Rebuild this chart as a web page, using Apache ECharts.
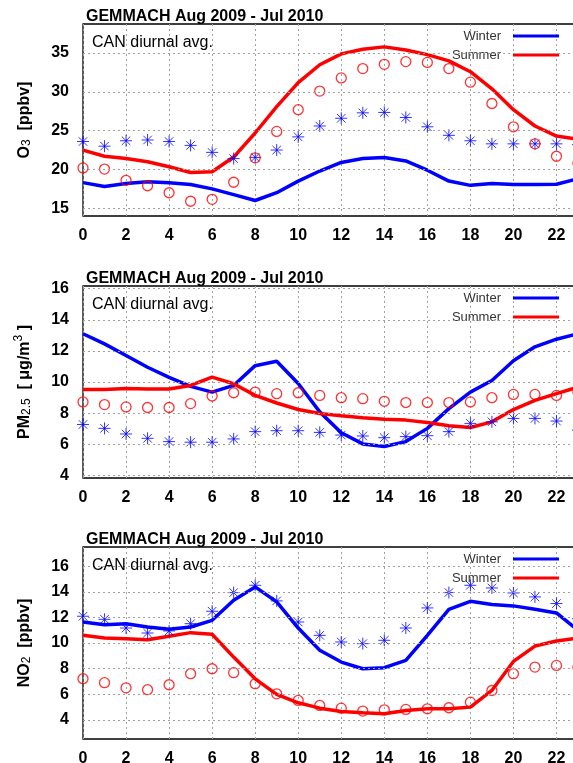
<!DOCTYPE html>
<html>
<head>
<meta charset="utf-8">
<script src="https://cdn.jsdelivr.net/npm/echarts@6/dist/echarts.min.js"></script>
<style>
  html, body { margin: 0; padding: 0; background: #fff; overflow: hidden; }
  #chart { width: 573px; height: 763px; }
</style>
</head>
<body>
<div id="chart"></div>
<script>
const hours = [0, 1, 2, 3, 4, 5, 6, 7, 8, 9, 10, 11, 12, 13, 14, 15, 16, 17, 18, 19, 20, 21, 22, 23]

// O3 [ppbv]
const o3WinterModel = [18.3, 17.8, 18.2, 18.4, 18.3, 18.05, 17.5, 16.75, 16.0, 17.0, 18.5, 19.8, 20.9, 21.4, 21.55, 21.1, 19.9, 18.5, 17.95, 18.2, 18.05, 18.05, 18.1, 18.8]
const o3SummerModel = [22.5, 21.7, 21.4, 21.0, 20.35, 19.6, 19.7, 21.6, 24.7, 28.1, 31.2, 33.5, 34.9, 35.5, 35.8, 35.4, 34.8, 34.0, 32.6, 30.4, 27.7, 25.6, 24.3, 23.9]
const o3WinterObs = [23.6, 23.0, 23.7, 23.8, 23.6, 23.1, 22.2, 21.4, 21.55, 22.5, 24.2, 25.6, 26.6, 27.3, 27.35, 26.7, 25.5, 24.4, 23.7, 23.3, 23.3, 23.3, 23.3, 23.2]
const o3SummerObs = [20.2, 20.05, 18.6, 17.9, 17.0, 15.9, 16.15, 18.35, 21.5, 24.9, 27.7, 30.1, 31.8, 33.0, 33.55, 33.9, 33.8, 33.0, 31.25, 28.5, 25.5, 23.3, 21.7, 20.8]

// PM2.5 [ug/m3]
const pmWinterModel = [13.1, 12.45, 11.7, 10.95, 10.3, 9.72, 9.35, 9.78, 11.05, 11.33, 9.9, 8.08, 6.74, 6.02, 5.85, 6.17, 7.02, 8.29, 9.35, 10.1, 11.37, 12.26, 12.75, 13.1]
const pmSummerModel = [9.52, 9.52, 9.59, 9.55, 9.55, 9.78, 10.31, 9.89, 9.14, 8.65, 8.23, 7.97, 7.83, 7.7, 7.61, 7.55, 7.4, 7.19, 7.08, 7.44, 8.23, 8.82, 9.25, 9.67]
const pmWinterObs = [7.27, 7.02, 6.66, 6.38, 6.17, 6.13, 6.13, 6.34, 6.81, 6.87, 6.87, 6.76, 6.59, 6.53, 6.42, 6.49, 6.55, 6.81, 7.34, 7.44, 7.66, 7.66, 7.49, 6.9]
const pmSummerObs = [8.72, 8.55, 8.4, 8.36, 8.36, 8.61, 9.1, 9.31, 9.35, 9.25, 9.31, 9.14, 8.99, 8.93, 8.76, 8.68, 8.68, 8.68, 8.72, 8.99, 9.2, 9.2, 9.14, 9.35]

// NO2 [ppbv]
const no2WinterModel = [11.64, 11.43, 11.51, 11.25, 11.07, 11.25, 11.77, 13.34, 14.38, 13.21, 11.17, 9.43, 8.51, 7.99, 8.07, 8.64, 10.6, 12.63, 13.26, 13.0, 12.9, 12.63, 12.35, 11.0]
const no2SummerModel = [10.6, 10.39, 10.34, 10.26, 10.52, 10.81, 10.68, 8.9, 7.2, 5.98, 5.33, 4.91, 4.65, 4.55, 4.47, 4.73, 4.86, 4.86, 4.99, 6.29, 8.56, 9.76, 10.16, 10.39]
const no2WinterObs = [12.09, 11.85, 11.17, 10.78, 10.94, 11.51, 12.48, 13.94, 14.51, 13.29, 11.64, 10.6, 10.08, 9.95, 10.21, 11.17, 12.74, 13.94, 14.51, 14.3, 13.91, 13.6, 13.08, 11.9]
const no2SummerObs = [7.21, 6.9, 6.5, 6.35, 6.74, 7.6, 7.99, 7.68, 6.82, 6.03, 5.51, 5.12, 4.91, 4.68, 4.78, 4.81, 4.86, 4.94, 5.38, 6.29, 7.6, 8.12, 8.25, 8.1]

const yTicksO3 = [15, 20, 25, 30, 35]
const yTicksPm = [4, 6, 8, 10, 12, 14, 16]
const yTicksNo2 = [4, 6, 8, 10, 12, 14, 16]

const titleText = 'GEMMACH Aug 2009 - Jul 2010'
const subText = 'CAN diurnal avg.'

const font = 'Liberation Sans'
const blue = '#0000ff'
const red = '#ff0000'
const asterisk = 'path://M0,5L10,5M5,0L5,10M1.46,1.46L8.54,8.54M1.46,8.54L8.54,1.46'

const panels = [
  { top: 24, min: 14, max: 38.75, ticks: yTicksO3, name: '{b|O}{sub|3}{b|  [ppbv]}',
    data: [o3WinterModel, o3SummerModel, o3WinterObs, o3SummerObs] },
  { top: 286, min: 3.83, max: 16.17, ticks: yTicksPm, name: '{b|PM}{sub|2.5}{b|  [ μg/m}{sup|3}{b| ]}',
    data: [pmWinterModel, pmSummerModel, pmWinterObs, pmSummerObs] },
  { top: 547, min: 2.5, max: 17.5, ticks: yTicksNo2, name: '{b|NO}{sub|2}{b|  [ppbv]}',
    data: [no2WinterModel, no2SummerModel, no2WinterObs, no2SummerObs] }
]

const pairs = (vals) => hours.map((h, i) => [h, vals[i]])
const dotted = { color: '#a0a0a0', width: 1, type: [2, 3] }

const chart = echarts.init(document.getElementById('chart'))

const option = {
  animation: false,
  textStyle: { fontFamily: font },
  title: [],
  legend: [],
  grid: [],
  xAxis: [],
  yAxis: [],
  series: []
}

panels.forEach((p, i) => {
  // plot box runs past the right edge of the picture, as in the original
  option.grid.push({
    left: 83, width: 495, top: p.top, height: 192, outerBoundsMode: 'none', containLabel: false,
    show: true, borderColor: '#000', borderWidth: 1.3, backgroundColor: 'transparent'
  })

  option.title.push(
    { text: titleText, left: 86, top: p.top - 15, padding: 0, textStyle: { fontFamily: font, fontSize: 16, fontWeight: 'bold', color: '#000' } },
    { text: subText, left: 92, top: p.top + 11, padding: 0, textStyle: { fontFamily: font, fontSize: 16, fontWeight: 'normal', color: '#000' } }
  )

  option.legend.push({
    data: ['Winter', 'Summer'],
    orient: 'vertical',
    align: 'right',
    right: 14,
    top: p.top + 5,
    padding: 0,
    itemGap: 5,
    itemWidth: 46,
    itemHeight: 3,
    icon: 'rect',
    selectedMode: false,
    textStyle: { fontFamily: font, fontSize: 13, color: '#333', lineHeight: 14, padding: [0, 7, 0, 0] }
  })

  option.xAxis.push({
    type: 'value', gridIndex: i, min: 0, max: 23, interval: 2,
    axisLine: { show: false }, axisTick: { show: false },
    axisLabel: { fontFamily: font, fontSize: 16, fontWeight: 'bold', color: '#000', margin: 12, showMaxLabel: false },
    splitLine: { show: true, lineStyle: dotted }
  })

  option.yAxis.push({
    type: 'value', gridIndex: i, min: p.min, max: p.max,
    axisLine: { show: false }, axisTick: { show: false },
    axisLabel: { fontFamily: font, fontSize: 16, fontWeight: 'bold', color: '#000', margin: 14, customValues: p.ticks },
    splitLine: { show: false },
    name: p.name, nameLocation: 'middle', nameGap: 50, nameRotate: 90,
    nameTextStyle: {
      rich: {
        b: { fontFamily: font, fontSize: 16, fontWeight: 'bold', color: '#000', lineHeight: 20, verticalAlign: 'bottom' },
        sub: { fontFamily: font, fontSize: 12, color: '#000', lineHeight: 12, verticalAlign: 'bottom' },
        sup: { fontFamily: font, fontSize: 12, color: '#000', lineHeight: 12, verticalAlign: 'top' }
      }
    }
  })

  const [wm, sm, wo, so] = p.data
  option.series.push(
    {
      name: 'Horizontal grid', type: 'line', xAxisIndex: i, yAxisIndex: i, data: [], silent: true,
      markLine: { symbol: 'none', silent: true, label: { show: false }, lineStyle: dotted, data: p.ticks.map(v => ({ yAxis: v })) }
    },
    { name: 'Winter', type: 'line', xAxisIndex: i, yAxisIndex: i, data: pairs(wm), showSymbol: false, lineStyle: { color: blue, width: 3.5 }, itemStyle: { color: blue }, z: 3 },
    { name: 'Summer', type: 'line', xAxisIndex: i, yAxisIndex: i, data: pairs(sm), showSymbol: false, lineStyle: { color: red, width: 3.5 }, itemStyle: { color: red }, z: 3 },
    { name: 'Winter obs', type: 'scatter', xAxisIndex: i, yAxisIndex: i, data: pairs(wo), symbol: asterisk, symbolSize: 12, itemStyle: { color: 'transparent', borderColor: blue, borderWidth: 1 }, z: 4 },
    { name: 'Summer obs', type: 'scatter', xAxisIndex: i, yAxisIndex: i, data: pairs(so), symbol: 'circle', symbolSize: 10, itemStyle: { color: 'transparent', borderColor: red, borderWidth: 1.3 }, z: 4 }
  )
})

chart.setOption(option)
</script>
</body>
</html>
